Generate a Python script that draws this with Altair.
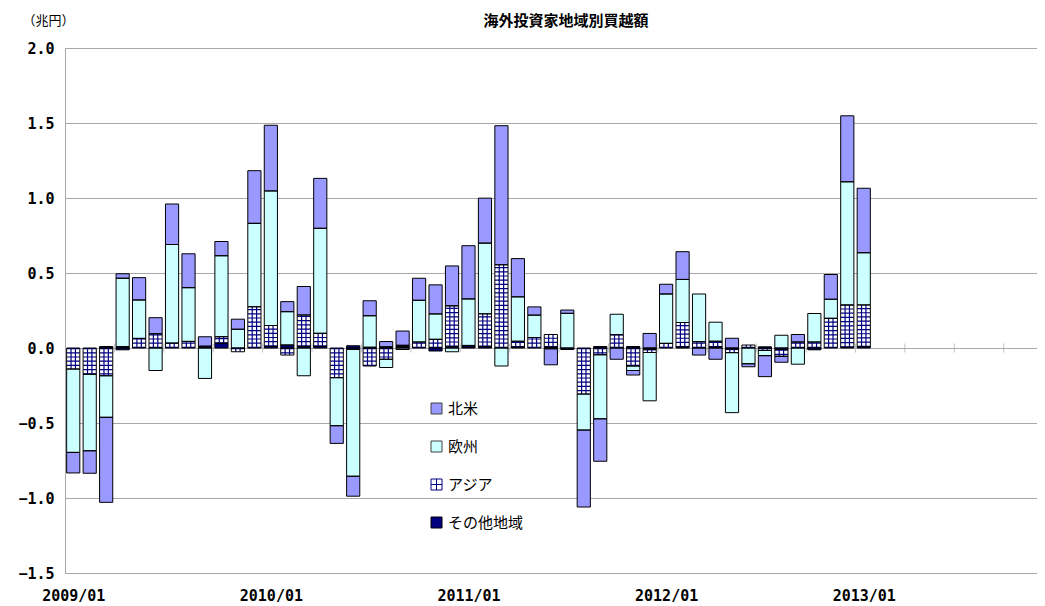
import json
import altair as alt
import pandas as pd

# ---- data (兆円), monthly from 2009/01 to 2013/01 ----
regions = ["その他地域", "アジア", "欧州", "北米"]          # stacking order from zero
legend_order = ["北米", "欧州", "アジア", "その他地域"]
year_labels = ["2009/01", "2010/01", "2011/01", "2012/01", "2013/01"]

other = [0, 0, 0.01, -0.012, 0, 0, 0, 0, 0.012, 0.031, 0, 0,
         0.01, 0.02, 0.01, 0.01, 0, 0.015, 0.005, 0.008, 0.008, 0, -0.02, 0.008,
         0.005, 0.008, 0, 0.005, 0, 0.005, 0, 0, 0.01, 0, 0.01, -0.008,
         0, 0.005, 0, 0.005, -0.006, 0, 0.008, -0.01, 0, -0.012, 0, 0.004,
         0.007]
asia = [-0.14, -0.175, -0.185, 0.01, 0.064, 0.095, 0.033, 0.044, 0, 0.044, -0.025, 0.275,
        0.14, -0.047, 0.21, 0.088, -0.198, -0.01, -0.12, -0.075, 0.01, 0.04, 0.058, 0.273,
        0.012, 0.22, 0.555, 0.04, 0.07, 0.085, -0.01, -0.307, -0.045, 0.089, -0.12, -0.022,
        0.031, 0.165, 0.042, 0.04, -0.025, 0.02, -0.016, -0.045, 0.04, 0.04, 0.198, 0.283,
        0.28]
europe = [-0.556, -0.51, -0.277, 0.455, 0.256, -0.15, 0.657, 0.358, -0.203, 0.54, 0.125, 0.556,
          0.897, 0.222, -0.185, 0.70, -0.32, -0.845, 0.21, -0.055, -0.01, 0.278, 0.169, -0.025,
          0.31, 0.471, -0.12, 0.296, 0.149, -0.005, 0.231, -0.24, -0.427, 0.136, -0.03, -0.322,
          0.329, 0.287, 0.318, 0.127, -0.40, -0.105, -0.035, 0.085, -0.108, 0.19, 0.127, 0.821,
          0.348]
north_america = [-0.137, -0.15, -0.567, 0.03, 0.149, 0.107, 0.27, 0.226, 0.063, 0.095, 0.067, 0.351,
                 0.438, 0.067, 0.19, 0.333, -0.118, -0.133, 0.10, 0.035, 0.095, 0.147, 0.194, 0.266,
                 0.355, 0.30, 0.927, 0.255, 0.055, -0.107, 0.022, -0.513, -0.283, -0.075, -0.03, 0.097,
                 0.065, 0.185, -0.047, -0.075, 0.065, -0.02, -0.14, -0.04, 0.05, 0, 0.165, 0.44,
                 0.43]

fills = {"北米": "#9999FF", "欧州": "#CCFFFF", "アジア": "#FFFFFF", "その他地域": "#000080"}
strokes = {"北米": "#404040", "欧州": "#404040", "アジア": "#000080", "その他地域": "#000000"}
shapes = {"北米": "square", "欧州": "square",
          "アジア": "M-1,-1H1V1H-1Z M0,-1V1 M-1,0H1", "その他地域": "square"}

rows = []
for i in range(len(other)):
    for k, (name, series) in enumerate(zip(regions, [other, asia, europe, north_america])):
        rows.append({"m": i, "region": name, "value": series[i], "order": k, "fill": fills[name]})
df = pd.DataFrame(rows)
df = df[df["value"] != 0]

n_months_axis = 60
boundaries = [3 * k - 0.5 for k in range(1, n_months_axis // 3)]
tick_df = pd.DataFrame({"b": boundaries})
legend_df = pd.DataFrame({"region": legend_order})

W, H = 972, 525
x_scale = alt.Scale(domain=[-0.5, 58.52], nice=False, zero=False)
y_scale = alt.Scale(domain=[-1.5, 2.0], nice=False, zero=False)

MONO = "DejaVu Sans Mono"
JP = "Noto Sans CJK JP"
GRID = "#a8a8a8"

x_axis = alt.Axis(values=[0, 12, 24, 36, 48],
                  labelExpr=json.dumps(year_labels) + "[round(datum.value / 12)]",
                  ticks=False, grid=False, title=None, labelFont=MONO, labelFontWeight="bold",
                  labelFontSize=15, labelPadding=15, labelColor="black", domainColor=GRID)
y_axis = alt.Axis(values=[-1.5, -1.0, -0.5, 0.0, 0.5, 1.0, 1.5, 2.0], format=".1f",
                  ticks=False, grid=True, gridColor=GRID, domainColor=GRID,
                  labelFont=MONO, labelFontWeight="bold", labelFontSize=15, labelPadding=11,
                  labelColor="black",
                  title="（兆円）", titleAngle=0, titleX=-17, titleY=-28, titleAlign="center",
                  titleBaseline="middle", titleFont=JP, titleFontWeight="normal", titleFontSize=13)

base = alt.Chart(df).transform_stack(
    stack="value", groupby=["m"], as_=["v0", "v1"],
    sort=[alt.SortField(field="order", order="ascending")]
).transform_calculate(
    xa="datum.m - 0.4", xb="datum.m + 0.4",
    xg1="datum.m - 0.4 + 0.8/3", xg2="datum.m + 0.4 - 0.8/3"
)

ticks = alt.Chart(tick_df).mark_tick(orient="vertical", size=9, thickness=1, color=GRID).encode(
    x=alt.X("b:Q", scale=x_scale, axis=x_axis), y=alt.datum(0, scale=y_scale))

bars = base.mark_rect().encode(
    x=alt.X("xa:Q", scale=x_scale, axis=x_axis), x2="xb:Q",
    y=alt.Y("v0:Q", scale=y_scale, axis=y_axis), y2="v1:Q",
    color=alt.Color("fill:N", scale=None, legend=None))

asia_only = base.transform_filter("datum.region == 'アジア'")
stripes = asia_only.mark_rule(color="#000080", strokeWidth=13, strokeDash=[1.2, 3.0]).encode(
    x="m:Q", y="v0:Q", y2="v1:Q")
vl1 = asia_only.mark_rule(color="#000080", strokeWidth=1.2).encode(x="xg1:Q", y="v0:Q", y2="v1:Q")
vl2 = asia_only.mark_rule(color="#000080", strokeWidth=1.2).encode(x="xg2:Q", y="v0:Q", y2="v1:Q")

outline = base.mark_rect(filled=True, fillOpacity=0, stroke="#000000", strokeWidth=1).encode(
    x="xa:Q", x2="xb:Q", y="v0:Q", y2="v1:Q")

leg = alt.Legend(orient="none", legendX=364, legendY=353, title=None, labelFont=JP,
                 labelFontSize=15, labelColor="black", symbolSize=121, symbolStrokeWidth=1,
                 symbolOpacity=1, rowPadding=22, labelOffset=4, padding=0)
legend_layer = alt.Chart(legend_df).transform_filter("false").mark_point(
    filled=True, size=121, opacity=1).encode(
    fill=alt.Fill("region:N", scale=alt.Scale(domain=legend_order, range=[fills[r] for r in legend_order]),
                  legend=leg, sort=legend_order),
    shape=alt.Shape("region:N", scale=alt.Scale(domain=legend_order, range=[shapes[r] for r in legend_order]),
                    legend=leg, sort=legend_order),
    stroke=alt.Stroke("region:N", scale=alt.Scale(domain=legend_order, range=[strokes[r] for r in legend_order]),
                      legend=leg, sort=legend_order),
)

chart = alt.layer(ticks, bars, stripes, vl1, vl2, outline, legend_layer).properties(
    width=W, height=H,
    autosize=alt.AutoSizeParams(type="none"),
    padding={"left": 57, "top": 40, "right": 0, "bottom": 33},
    title=alt.Title("海外投資家地域別買越額", font=JP, fontSize=15, fontWeight="bold",
                    anchor="middle", dx=15, offset=-15, color="black"),
).configure_view(strokeWidth=0)

chart.save("out.html", embed_options={"renderer": "svg", "actions": False})
